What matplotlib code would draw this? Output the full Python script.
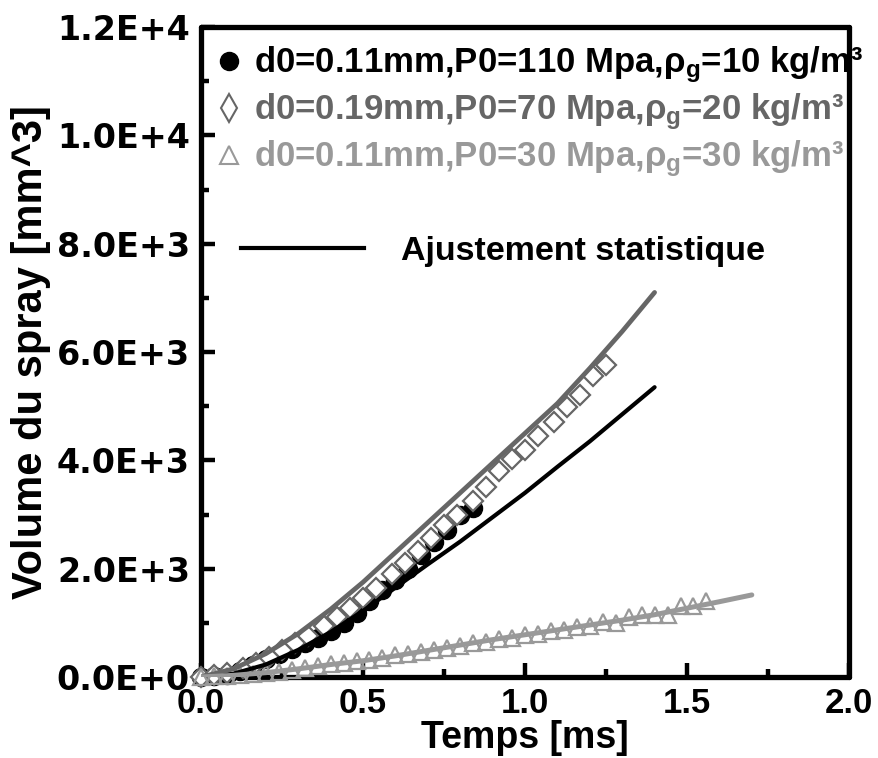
import matplotlib
matplotlib.use("Agg")
import matplotlib.pyplot as plt
from matplotlib.lines import Line2D
from matplotlib.ticker import MultipleLocator

plt.rcParams['font.family'] = ['Liberation Sans', 'DejaVu Sans']
plt.rcParams['font.weight'] = 'bold'
plt.rcParams['axes.labelweight'] = 'bold'
plt.rcParams['mathtext.fontset'] = 'custom'
plt.rcParams['mathtext.rm'] = 'Liberation Sans:bold'
plt.rcParams['mathtext.it'] = 'Liberation Sans:bold'
plt.rcParams['mathtext.bf'] = 'Liberation Sans:bold'

########################
#   DATA (read off)    #
########################

# d0=0.11mm, P0=110 MPa, rho_g=10
t_circ = [0.00, 0.04, 0.08, 0.12, 0.16, 0.20, 0.24, 0.28, 0.32, 0.36, 0.40,
          0.44, 0.48, 0.52, 0.56, 0.60, 0.64, 0.68, 0.72, 0.76, 0.80, 0.84]
v_circ = [0, 15, 45, 110, 220, 330, 430, 520, 620, 720, 850,
          1000, 1180, 1400, 1600, 1800, 2000, 2250, 2500, 2720, 3000, 3120]

# d0=0.19mm, P0=70 MPa, rho_g=20
t_diam = [0.00, 0.04, 0.08, 0.13, 0.17, 0.21, 0.25, 0.29, 0.33, 0.38, 0.42,
          0.46, 0.50, 0.54, 0.59, 0.63, 0.67, 0.71, 0.75, 0.79, 0.84, 0.88,
          0.92, 0.96, 1.00, 1.04, 1.09, 1.13, 1.17, 1.21, 1.25]
v_diam = [0, 30, 80, 170, 260, 370, 490, 620, 760, 940, 1100,
          1280, 1460, 1650, 1900, 2100, 2330, 2560, 2800, 3000, 3250, 3500,
          3800, 4020, 4200, 4450, 4700, 4980, 5200, 5550, 5760]

# d0=0.11mm, P0=30 MPa, rho_g=30
t_tri = [0.00, 0.04, 0.08, 0.12, 0.16, 0.20, 0.24, 0.28, 0.32, 0.36, 0.40,
         0.44, 0.48, 0.52, 0.56, 0.60, 0.64, 0.68, 0.72, 0.76, 0.80, 0.84,
         0.88, 0.92, 0.96, 1.00, 1.04, 1.08, 1.12, 1.16, 1.20, 1.24, 1.28,
         1.32, 1.36, 1.40, 1.44, 1.48, 1.52, 1.56]
v_tri = [0, 10, 20, 35, 50, 80, 100, 130, 170, 200, 240,
         260, 300, 320, 360, 400, 420, 470, 500, 540, 570, 620,
         650, 700, 720, 780, 800, 850, 870, 930, 940, 1010, 1000,
         1100, 1150, 1150, 1150, 1310, 1310, 1400]

# statistical fits
t_fit = [0.0, 0.1, 0.2, 0.3, 0.4, 0.5, 0.6, 0.7, 0.8, 0.9, 1.0, 1.1, 1.2, 1.3, 1.4]
fit_circ = [0, 60, 230, 500, 830, 1220, 1650, 2080, 2500, 2950, 3400, 3880, 4350, 4850, 5350]
fit_diam = [0, 150, 430, 800, 1250, 1750, 2300, 2850, 3400, 3950, 4500, 5050, 5700, 6380, 7100]
t_fit_tri = [0.0, 0.1, 0.2, 0.3, 0.4, 0.5, 0.6, 0.7, 0.8, 0.9, 1.0, 1.1, 1.2,
             1.3, 1.4, 1.5, 1.6, 1.7]
fit_tri = [0, 30, 80, 150, 230, 300, 390, 490, 590, 690, 780, 870, 960,
           1050, 1150, 1270, 1390, 1515]

labels = [r"d0=0.11mm,P0=110 Mpa,$\rho_\mathregular{g}$=10 kg/m³",
          r"d0=0.19mm,P0=70 Mpa,$\rho_\mathregular{g}$=20 kg/m³",
          r"d0=0.11mm,P0=30 Mpa,$\rho_\mathregular{g}$=30 kg/m³"]
fit_label = "Ajustement statistique"

xticks = [0.0, 0.5, 1.0, 1.5, 2.0]
xtick_labels = ["0.0", "0.5", "1.0", "1.5", "2.0"]
yticks = [0, 2000, 4000, 6000, 8000, 10000, 12000]
ytick_labels = ["0.0E+0", "2.0E+3", "4.0E+3", "6.0E+3", "8.0E+3", "1.0E+4", "1.2E+4"]

BLACK = '#000000'
GRAY = '#666666'
LIGHT = '#999999'

################
#   PLOTTING   #
################

fig = plt.figure(figsize=(8.79, 7.58), dpi=100)
ax = fig.add_axes([201/879, 1-677/758, 648/879, 650/758])

ax.plot(t_circ, v_circ, 'o', color=BLACK, ms=13, clip_on=False, zorder=3)
ax.plot(t_diam, v_diam, 'D', mfc='white', mec=GRAY, mew=1.6, ms=10, clip_on=False, zorder=3)
ax.plot(t_tri, v_tri, '^', mfc='none', mec=LIGHT, mew=1.6, ms=11, clip_on=False, zorder=3)

ax.plot(t_fit, fit_circ, color=BLACK, lw=3.0, solid_capstyle='round', zorder=4)
ax.plot(t_fit, fit_diam, color=GRAY, lw=3.4, solid_capstyle='round', zorder=4)
ax.plot(t_fit_tri, fit_tri, color=LIGHT, lw=3.6, solid_capstyle='round', zorder=4)

ax.set_xlim(0, 2.0)
ax.set_ylim(0, 12000)
ax.set_xticks(xticks)
ax.set_xticklabels(xtick_labels, fontsize=25)
ax.set_yticks(yticks)
ax.set_yticklabels(ytick_labels, fontsize=24, family='DejaVu Sans')
ax.xaxis.set_minor_locator(MultipleLocator(0.25))
ax.yaxis.set_minor_locator(MultipleLocator(1000))
ax.tick_params(which='both', direction='in', top=False, right=False, width=3.2)
ax.tick_params(which='major', length=10)
ax.tick_params(which='minor', length=6)
ax.tick_params(axis='x', pad=7)
ax.tick_params(axis='y', pad=8)
for sp in ax.spines.values():
    sp.set_linewidth(3.8)
    sp.set_capstyle('round')

ax.set_xlabel("Temps [ms]", fontsize=27, labelpad=0)
ax.set_ylabel("Volume du spray [mm^3]", fontsize=30, labelpad=4)

handles = [
    Line2D([], [], ls='none', marker='o', color=BLACK, ms=13),
    Line2D([], [], ls='none', marker='d', mfc='white', mec=GRAY, mew=1.5, ms=14),
    Line2D([], [], ls='none', marker='^', mfc='white', mec=LIGHT, mew=1.5, ms=13),
]
leg = ax.legend(handles, labels, loc='upper left', bbox_to_anchor=(-0.01, 1.005),
                frameon=False, fontsize=25, handlelength=0.8, handletextpad=0.3,
                labelspacing=0.18, borderaxespad=0.2)
for txt, c in zip(leg.get_texts(), [BLACK, GRAY, LIGHT]):
    txt.set_color(c)
ax.add_artist(leg)

fit_handle = Line2D([], [], color=BLACK, lw=3.0)
ax.legend([fit_handle], [fit_label], loc='upper left', bbox_to_anchor=(0.015, 0.725),
          frameon=False, fontsize=24.5, handlelength=3.6, handletextpad=1.1)

fig.savefig("out.png", dpi=100)
